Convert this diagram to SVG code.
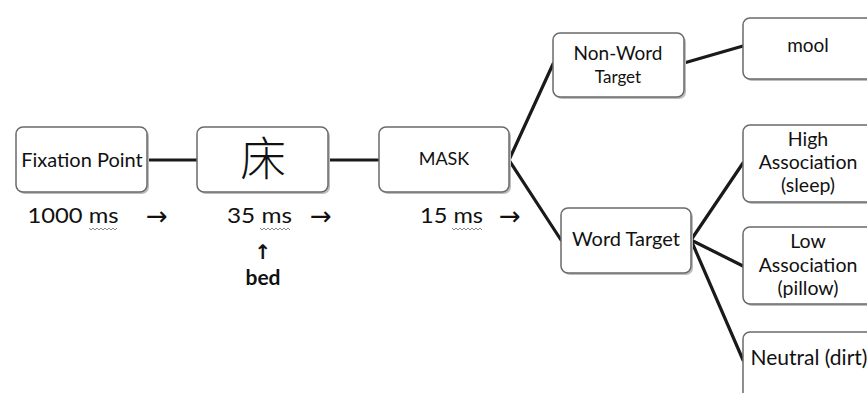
<svg xmlns="http://www.w3.org/2000/svg" width="867" height="393" viewBox="0 0 867 393">
<style>
.box{fill:#fff;stroke:#6a6a6a;stroke-width:1.5}
.sh{fill:#bdbdbd}
.t{font-family:Lato,"Open Sans","Liberation Sans",sans-serif;fill:#111;text-anchor:middle}
.a{font-family:"DejaVu Sans",sans-serif;fill:#111;font-size:26px}
.c{stroke:#1a1a1a;stroke-width:3.2;fill:none;stroke-linecap:round}
.sq{stroke:#8a8a8a;stroke-width:1;fill:none}
</style>
<rect width="867" height="393" fill="#fff"/>
<g id="connectors">
<line class="c" x1="148" y1="160" x2="197" y2="160"/>
<line class="c" x1="328" y1="160" x2="379" y2="160"/>
<line class="c" x1="509" y1="160" x2="553" y2="64"/>
<line class="c" x1="509" y1="160" x2="561" y2="240"/>
<line class="c" x1="684" y1="63" x2="743" y2="46"/>
<line class="c" x1="691" y1="240" x2="743" y2="163"/>
<line class="c" x1="691" y1="240" x2="743" y2="266"/>
<line class="c" x1="691" y1="240" x2="743" y2="360"/>
</g>
<g id="fixation">
<rect class="sh" x="18" y="129" width="131" height="65" rx="7"/>
<rect class="box" x="16" y="127" width="131" height="65" rx="7"/>
<text class="t" x="82" y="167" font-size="20">Fixation Point</text>
</g>
<g id="prime">
<rect class="sh" x="199" y="129" width="131" height="65" rx="7"/>
<rect class="box" x="197" y="127" width="131" height="65" rx="7"/>
<text x="263" y="175" font-size="46" font-weight="300" text-anchor="middle" fill="#111" font-family="'Noto Sans CJK SC','Noto Sans CJK JP',sans-serif">床</text>
</g>
<g id="mask">
<rect class="sh" x="381" y="129" width="130" height="65" rx="7"/>
<rect class="box" x="379" y="127" width="130" height="65" rx="7"/>
<text class="t" x="444" y="165" font-size="18">MASK</text>
</g>
<g id="nonword">
<rect class="sh" x="555" y="35" width="131" height="64" rx="7"/>
<rect class="box" x="553" y="33" width="131" height="64" rx="7"/>
<text class="t" x="618" y="60" font-size="19">Non-Word</text>
<text class="t" x="618" y="83" font-size="17">Target</text>
</g>
<g id="mool">
<rect class="sh" x="745" y="20" width="132" height="61" rx="7"/>
<rect class="box" x="743" y="18" width="132" height="61" rx="7"/>
<text class="t" x="808" y="52" font-size="19">mool</text>
</g>
<g id="word">
<rect class="sh" x="563" y="210" width="130" height="65" rx="7"/>
<rect class="box" x="561" y="208" width="130" height="65" rx="7"/>
<text class="t" x="626" y="246" font-size="20">Word Target</text>
</g>
<g id="high">
<rect class="sh" x="745" y="127" width="132" height="77" rx="7"/>
<rect class="box" x="743" y="125" width="132" height="77" rx="7"/>
<text class="t" x="808" y="146" font-size="19.5">High</text>
<text class="t" x="808" y="169" font-size="19.5">Association</text>
<text class="t" x="808" y="192" font-size="19.5">(sleep)</text>
</g>
<g id="low">
<rect class="sh" x="745" y="229" width="132" height="77" rx="7"/>
<rect class="box" x="743" y="227" width="132" height="77" rx="7"/>
<text class="t" x="808" y="248" font-size="19.5">Low</text>
<text class="t" x="808" y="272" font-size="19.5">Association</text>
<text class="t" x="808" y="295" font-size="19.5">(pillow)</text>
</g>
<g id="neutral">
<rect class="sh" x="745" y="334" width="132" height="70" rx="7"/>
<rect class="box" x="743" y="332" width="132" height="70" rx="7"/>
<text class="t" x="809" y="365" font-size="21">Neutral (dirt)</text>
</g>
<g id="labels">
<text class="t" x="73" y="223" font-size="22" textLength="91" lengthAdjust="spacingAndGlyphs">1000 ms</text>
<text class="a" x="146" y="225">→</text>
<text class="t" x="259.5" y="223" font-size="22" textLength="65" lengthAdjust="spacingAndGlyphs">35 ms</text>
<text class="a" x="310" y="225">→</text>
<text x="263" y="259" font-size="20" font-weight="bold" text-anchor="middle" fill="#111" font-family="'DejaVu Sans',sans-serif">↑</text>
<text class="t" x="263" y="285" font-size="21" font-weight="bold">bed</text>
<text class="t" x="451.5" y="223" font-size="22" textLength="63" lengthAdjust="spacingAndGlyphs">15 ms</text>
<text class="a" x="499" y="225">→</text>
<path class="sq" d="M89 228 l2 2 l2 -2 l2 2 l2 -2 l2 2 l2 -2 l2 2 l2 -2 l2 2 l2 -2 l2 2 l2 -2 l2 2 l2 -2"/>
<path class="sq" d="M260 228 l2 2 l2 -2 l2 2 l2 -2 l2 2 l2 -2 l2 2 l2 -2 l2 2 l2 -2 l2 2 l2 -2 l2 2 l2 -2 l2 2"/>
<path class="sq" d="M452 228 l2 2 l2 -2 l2 2 l2 -2 l2 2 l2 -2 l2 2 l2 -2 l2 2 l2 -2 l2 2 l2 -2 l2 2 l2 -2 l2 2"/>
</g>
</svg>
